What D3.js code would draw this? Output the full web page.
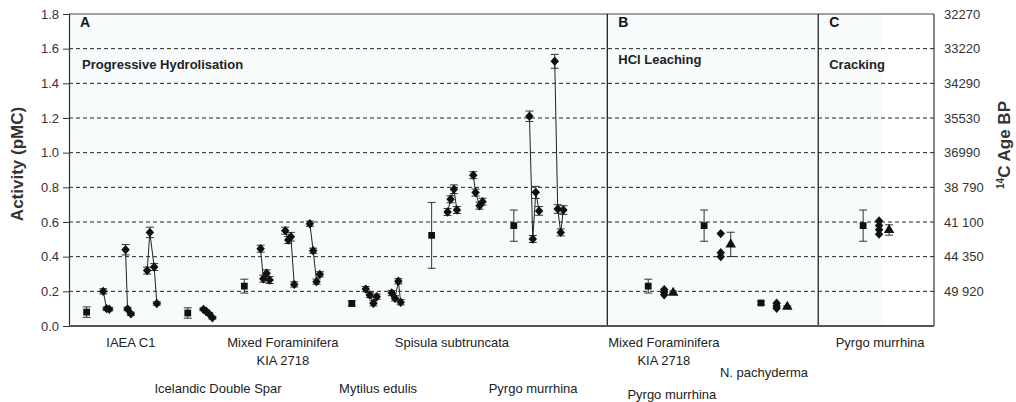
<!DOCTYPE html>
<html>
<head>
<meta charset="utf-8">
<script src="https://cdn.jsdelivr.net/npm/d3@7"></script>
<style>
  body { margin: 0; background: #fff; }
  text { font-family: "Liberation Sans", Arial, sans-serif; }
</style>
</head>
<body>
<div id="chart"></div>
<script>
// ---- data (x = position slot along the bottom, v = activity pMC, e = error) ----
var panels = [
    { label: "A", title: "Progressive Hydrolisation", from: 0 },
    { label: "B", title: "HCl Leaching", from: 161.8 },
    { label: "C", title: "Cracking", from: 225.2 }
];

// reference samples (squares)
var refPoints = [
    { x: 5.3, v: 0.08, e: 0.03 },
    { x: 35.7, v: 0.075, e: 0.03 },
    { x: 52.7, v: 0.23, e: 0.04 },
    { x: 85.0, v: 0.13, e: 0.015 },
    { x: 109.0, v: 0.523, e: 0.19 },
    { x: 133.7, v: 0.579, e: 0.09 },
    { x: 174.1, v: 0.23, e: 0.04 },
    { x: 190.9, v: 0.579, e: 0.09 },
    { x: 208.0, v: 0.133, e: 0.008 },
    { x: 238.7, v: 0.579, e: 0.09 }
];

// progressive hydrolisation runs (connected diamonds)
var hydroRuns = [
    [{ x: 10.3, v: 0.20, e: 0.015 }, { x: 11.3, v: 0.10, e: 0.01 }, { x: 12.1, v: 0.097, e: 0.01 }],
    [{ x: 17.0, v: 0.44, e: 0.03 }, { x: 17.6, v: 0.098, e: 0.01 }, { x: 18.6, v: 0.07, e: 0.01 }],
    [{ x: 23.5, v: 0.32, e: 0.02 }, { x: 24.3, v: 0.54, e: 0.03 }, { x: 25.6, v: 0.34, e: 0.02 }, { x: 26.4, v: 0.13, e: 0.01 }],
    [{ x: 40.4, v: 0.096, e: 0.008 }, { x: 41.2, v: 0.085, e: 0.008 }, { x: 42.1, v: 0.07, e: 0.008 }, { x: 43.1, v: 0.048, e: 0.008 }],
    [{ x: 57.6, v: 0.446, e: 0.02 }, { x: 58.4, v: 0.273, e: 0.02 }, { x: 59.4, v: 0.304, e: 0.02 }, { x: 60.3, v: 0.265, e: 0.02 }],
    [{ x: 65.0, v: 0.55, e: 0.02 }, { x: 65.9, v: 0.496, e: 0.02 }, { x: 66.7, v: 0.515, e: 0.025 }, { x: 67.7, v: 0.24, e: 0.015 }],
    [{ x: 72.4, v: 0.59, e: 0.015 }, { x: 73.4, v: 0.434, e: 0.015 }, { x: 74.4, v: 0.256, e: 0.015 }, { x: 75.4, v: 0.298, e: 0.015 }],
    [{ x: 89.2, v: 0.213, e: 0.015 }, { x: 90.4, v: 0.179, e: 0.015 }, { x: 91.5, v: 0.131, e: 0.015 }, { x: 92.5, v: 0.169, e: 0.015 }],
    [{ x: 97.0, v: 0.19, e: 0.015 }, { x: 98.0, v: 0.16, e: 0.015 }, { x: 99.0, v: 0.258, e: 0.015 }, { x: 99.7, v: 0.137, e: 0.015 }],
    [{ x: 113.8, v: 0.658, e: 0.02 }, { x: 114.7, v: 0.731, e: 0.02 }, { x: 115.7, v: 0.789, e: 0.025 }, { x: 116.6, v: 0.669, e: 0.02 }],
    [{ x: 121.5, v: 0.87, e: 0.02 }, { x: 122.2, v: 0.77, e: 0.02 }, { x: 123.4, v: 0.694, e: 0.02 }, { x: 124.3, v: 0.717, e: 0.02 }],
    [{ x: 138.4, v: 1.21, e: 0.03 }, { x: 139.4, v: 0.502, e: 0.02 }, { x: 140.3, v: 0.771, e: 0.035 }, { x: 141.3, v: 0.664, e: 0.025 }],
    [{ x: 146.0, v: 1.527, e: 0.04 }, { x: 146.9, v: 0.675, e: 0.025 }, { x: 147.8, v: 0.54, e: 0.02 }, { x: 148.6, v: 0.669, e: 0.025 }]
];

// leaching / cracking fractions (unconnected diamonds)
var stackDiamonds = [
    { x: 178.9, v: 0.21 }, { x: 178.9, v: 0.195 }, { x: 178.9, v: 0.18 },
    { x: 195.9, v: 0.533 }, { x: 195.9, v: 0.423 }, { x: 195.9, v: 0.40 },
    { x: 212.7, v: 0.131 }, { x: 212.7, v: 0.115 }, { x: 212.7, v: 0.102 },
    { x: 243.5, v: 0.606 }, { x: 243.5, v: 0.58 }, { x: 243.5, v: 0.555 }, { x: 243.5, v: 0.53 }
];

// summed results (triangles)
var trianglePoints = [
    { x: 181.6, v: 0.192, e: 0.01 },
    { x: 198.9, v: 0.471, e: 0.07 },
    { x: 215.9, v: 0.111, e: 0.005 },
    { x: 246.5, v: 0.554, e: 0.03 }
];

var activityTicks = [0, 0.2, 0.4, 0.6, 0.8, 1.0, 1.2, 1.4, 1.6, 1.8];
var ageTicks = [0.2, 0.4, 0.6, 0.8, 1.0, 1.2, 1.4, 1.6, 1.8];
var ageLabels = ["49 920", "44 350", "41 100", "38 790", "36990", "35530", "34290", "33220", "32270"];

var sampleLabels = [
    { text: "IAEA C1", x: 18.6, row: 0 },
    { text: "Mixed Foraminifera", x: 64.3, row: 0 },
    { text: "KIA 2718", x: 64.3, row: 1 },
    { text: "Spisula subtruncata", x: 115.1, row: 0 },
    { text: "Mixed Foraminifera", x: 178.8, row: 0 },
    { text: "KIA 2718", x: 178.8, row: 1 },
    { text: "Pyrgo murrhina", x: 243.8, row: 0 },
    { text: "N. pachyderma", x: 208.9, row: 2 },
    { text: "Icelandic Double Spar", x: 44.8, row: 3 },
    { text: "Mytilus edulis", x: 92.9, row: 3 },
    { text: "Pyrgo murrhina", x: 139.5, row: 3 },
    { text: "Pyrgo murrhina", x: 181.2, row: 4 }
];

// ---- layout ----
var margin = { top: 14, right: 82, bottom: 76, left: 69 },
    width = 1016 - margin.left - margin.right,
    height = 402 - margin.top - margin.bottom;

var x = d3.scaleLinear().domain([0, 260]).range([0, width]);
var y = d3.scaleLinear().domain([0, 1.8]).range([height, 0]);

var svg = d3.select("#chart").append("svg")
    .attr("width", 1016)
    .attr("height", 402)
    .append("g")
    .attr("transform", "translate(" + margin.left + "," + margin.top + ")");

// plot background
svg.append("rect")
    .attr("width", x(244.5)).attr("height", height)
    .attr("fill", "#f7fbfc");

// dashed grid lines
svg.selectAll(".grid")
    .data(ageTicks.slice(0, 8))
    .enter().append("line")
    .attr("x1", 0).attr("x2", width)
    .attr("y1", function (d) { return y(d); })
    .attr("y2", function (d) { return y(d); })
    .attr("stroke", "#222").attr("stroke-width", 1)
    .attr("stroke-dasharray", "4,3");

// frame
svg.append("line").attr("x1", 0).attr("x2", width).attr("y1", 0).attr("y2", 0)
    .attr("stroke", "#444").attr("stroke-width", 1.2);
svg.append("line").attr("x1", width).attr("x2", width).attr("y1", 0).attr("y2", height)
    .attr("stroke", "#333").attr("stroke-width", 1.2);

// panel separators and titles
svg.selectAll(".sep")
    .data(panels.slice(1))
    .enter().append("line")
    .attr("x1", function (d) { return x(d.from); })
    .attr("x2", function (d) { return x(d.from); })
    .attr("y1", 0).attr("y2", height)
    .attr("stroke", "#111").attr("stroke-width", 1.2);

svg.selectAll(".plabel")
    .data(panels)
    .enter().append("text")
    .attr("x", function (d) { return x(d.from) + 11; })
    .attr("y", 13)
    .attr("font-size", 14).attr("font-weight", "bold").attr("fill", "#111")
    .text(function (d) { return d.label; });

svg.selectAll(".ptitle")
    .data(panels)
    .enter().append("text")
    .attr("x", function (d, i) { return x(d.from) + (i == 0 ? 13 : 11); })
    .attr("y", function (d, i) { return i == 1 ? 50 : 55; })
    .attr("font-size", 13).attr("font-weight", "bold").attr("fill", "#222")
    .text(function (d) { return d.title; });

// left axis
var yAxis = svg.append("g")
    .call(d3.axisLeft(y).tickValues(activityTicks).tickFormat(d3.format(".1f")).tickSize(6).tickPadding(4));
yAxis.select(".domain").attr("stroke", "#333").attr("stroke-width", 1.2);
yAxis.selectAll(".tick line").attr("stroke", "#333");
yAxis.selectAll("text").attr("font-size", 13).attr("fill", "#333")
    .attr("font-family", "Liberation Sans, Arial, sans-serif");

// right axis (age labels)
var yRight = svg.append("g")
    .attr("transform", "translate(" + width + ",0)")
    .call(d3.axisRight(y).tickValues(ageTicks).tickSize(0).tickPadding(10)
        .tickFormat(function (d, i) { return ageLabels[i]; }));
yRight.select(".domain").remove();
yRight.selectAll("text").attr("font-size", 13).attr("fill", "#333")
    .attr("font-family", "Liberation Sans, Arial, sans-serif");

// bottom axis line
svg.append("line").attr("x1", 0).attr("x2", width).attr("y1", height).attr("y2", height)
    .attr("stroke", "#555").attr("stroke-width", 2);

// axis titles
svg.append("text")
    .attr("transform", "translate(-46," + (height / 2 - 6) + ") rotate(-90)")
    .attr("text-anchor", "middle")
    .attr("font-size", 17).attr("font-weight", "bold").attr("fill", "#333")
    .text("Activity (pMC)");

var ageTitle = svg.append("text")
    .attr("transform", "translate(" + (width + 76) + "," + (height / 2 - 25) + ") rotate(-90)")
    .attr("text-anchor", "middle")
    .attr("font-size", 17).attr("font-weight", "bold").attr("fill", "#333");
ageTitle.append("tspan").attr("font-size", 10).attr("dy", -6).text("14");
ageTitle.append("tspan").attr("dy", 6).text("C Age BP");

// sample labels under the axis
var rowY = [21, 39, 51, 67, 73];
svg.selectAll(".slabel")
    .data(sampleLabels)
    .enter().append("text")
    .attr("x", function (d) { return x(d.x); })
    .attr("y", function (d) { return height + rowY[d.row]; })
    .attr("text-anchor", "middle")
    .attr("font-size", 13).attr("fill", "#222")
    .text(function (d) { return d.text; });

// error bars
function errorBars(data) {
    var g = svg.append("g");
    var eb = g.selectAll("g").data(data.filter(function (d) { return d.e; }))
        .enter().append("g").attr("stroke", "#333").attr("stroke-width", 1);
    eb.append("line")
        .attr("x1", function (d) { return x(d.x); }).attr("x2", function (d) { return x(d.x); })
        .attr("y1", function (d) { return y(d.v - d.e); }).attr("y2", function (d) { return y(d.v + d.e); });
    eb.append("line")
        .attr("x1", function (d) { return x(d.x) - 4; }).attr("x2", function (d) { return x(d.x) + 4; })
        .attr("y1", function (d) { return y(d.v - d.e); }).attr("y2", function (d) { return y(d.v - d.e); });
    eb.append("line")
        .attr("x1", function (d) { return x(d.x) - 4; }).attr("x2", function (d) { return x(d.x) + 4; })
        .attr("y1", function (d) { return y(d.v + d.e); }).attr("y2", function (d) { return y(d.v + d.e); });
}

var allRunPoints = [].concat.apply([], hydroRuns);
errorBars(refPoints);
errorBars(allRunPoints);
errorBars(trianglePoints);

// connecting lines for hydrolisation runs
var line = d3.line().x(function (d) { return x(d.x); }).y(function (d) { return y(d.v); });
svg.selectAll(".run")
    .data(hydroRuns)
    .enter().append("path")
    .attr("d", line)
    .attr("fill", "none").attr("stroke", "#222").attr("stroke-width", 1);

// a squat diamond, closer to the spreadsheet marker than d3.symbolDiamond
var squatDiamond = {
    draw: function (context, size) {
        var r = Math.sqrt(size / 2);
        context.moveTo(0, -r * 1.05);
        context.lineTo(r * 0.95, 0);
        context.lineTo(0, r * 1.05);
        context.lineTo(-r * 0.95, 0);
        context.closePath();
    }
};

// markers
function markers(data, type, size) {
    svg.append("g").selectAll("path")
        .data(data)
        .enter().append("path")
        .attr("transform", function (d) { return "translate(" + x(d.x) + "," + y(d.v) + ")"; })
        .attr("d", d3.symbol().type(type).size(size))
        .attr("fill", "#111");
}
markers(refPoints, d3.symbolSquare, 46);
markers(allRunPoints, squatDiamond, 40);
markers(stackDiamonds, squatDiamond, 40);
markers(trianglePoints, d3.symbolTriangle, 48);
</script>
</body>
</html>
